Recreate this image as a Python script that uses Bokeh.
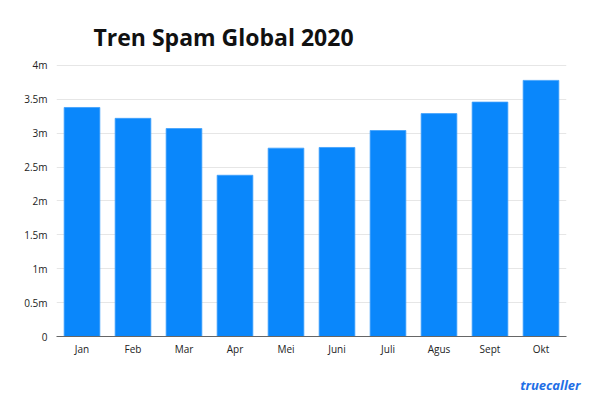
from bokeh.plotting import figure
from bokeh.models import ColumnDataSource, Title, FixedTicker, Range1d
from bokeh.embed import file_html
from bokeh.resources import INLINE

months = ["Jan", "Feb", "Mar", "Apr", "Mei", "Juni", "Juli", "Agus", "Sept", "Okt"]
spam = [3.38e6, 3.22e6, 3.07e6, 2.38e6, 2.78e6, 2.79e6, 3.04e6, 3.29e6, 3.46e6, 3.78e6]
tick_values = [0, 500000, 1000000, 1500000, 2000000, 2500000, 3000000, 3500000, 4000000]
tick_labels = ["0", "0.5m", "1m", "1.5m", "2m", "2.5m", "3m", "3.5m", "4m"]

FONT = "Open Sans"

p = figure(x_range=months, width=600, height=408, output_backend="svg",
           toolbar_location=None, min_border_left=56, min_border_right=34,
           min_border_top=63, min_border_bottom=71)
p.y_range = Range1d(0, 4e6 * 274 / 272)
p.x_range.range_padding = 0

src = ColumnDataSource(dict(m=months, v=spam))
p.vbar(x="m", top="v", width=0.7, source=src, color="#0a87fb", line_color="#3fa0fb", line_width=0.8)

p.outline_line_color = None
p.background_fill_color = "white"
p.border_fill_color = "white"

p.xgrid.grid_line_color = None
p.ygrid.grid_line_color = "#e6e6e6"
p.ygrid.grid_line_width = 1

p.yaxis.ticker = FixedTicker(ticks=tick_values)
p.yaxis.major_label_overrides = {v: l for v, l in zip(tick_values, tick_labels)}
p.yaxis.axis_line_color = None
p.yaxis.major_tick_line_color = None
p.yaxis.minor_tick_line_color = None
p.yaxis.major_tick_out = 0
p.yaxis.major_label_standoff = 9
p.yaxis.major_label_text_font = FONT
p.yaxis.major_label_text_font_size = "10px"
p.yaxis.major_label_text_color = "#222222"

p.xaxis.axis_line_color = "#666666"
p.xaxis.axis_line_width = 1
p.xaxis.major_tick_line_color = None
p.xaxis.minor_tick_line_color = None
p.xaxis.major_tick_out = 0
p.xaxis.major_label_standoff = 5
p.xaxis.major_label_text_font = FONT
p.xaxis.major_label_text_font_size = "10px"
p.xaxis.major_label_text_color = "#222222"

p.title.text = "Tren Spam Global 2020"
p.title.text_font = FONT
p.title.text_font_size = "23px"
p.title.text_font_style = "bold"
p.title.text_color = "#111111"
p.title.align = "left"
p.title.offset = 37
p.title.standoff = 21

logo = Title(text="truecaller", text_font=FONT, text_font_size="13px",
             text_font_style="bold italic", text_color="#1f6fe6", align="right",
             offset=-14, standoff=30)
p.add_layout(logo, "below")

open("out.html", "w").write(file_html(p, INLINE))
